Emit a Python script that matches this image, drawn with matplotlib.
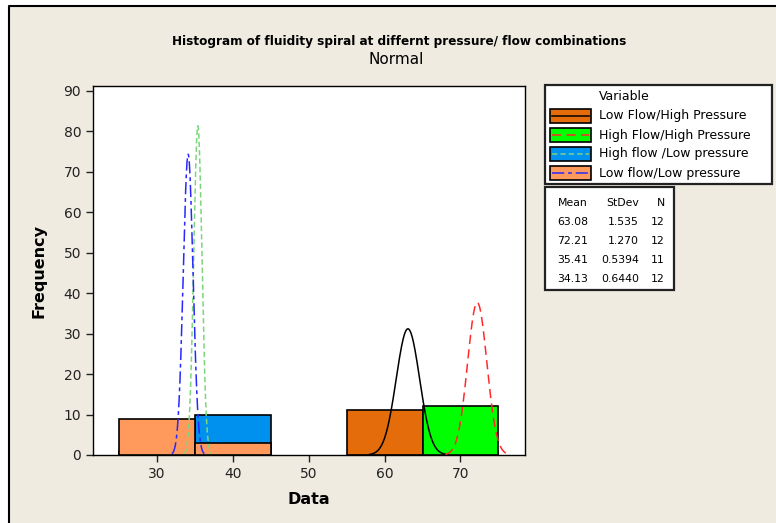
import numpy as np
import matplotlib.pyplot as plt
from matplotlib.patches import Rectangle
from matplotlib.lines import Line2D

# Histogram bins (Minitab bins of width 10)
bin_edges = [25, 35, 45, 55, 65, 75]
series = [
    "Low Flow/High Pressure",
    "High Flow/High Pressure",
    "High flow /Low pressure",
    "Low flow/Low pressure",
]
counts = [
    [0, 0, 0, 11, 1],
    [0, 0, 0, 0, 12],
    [1, 10, 0, 0, 0],
    [9, 3, 0, 0, 0],
]
means = [63.08, 72.21, 35.41, 34.13]
stdevs = [1.535, 1.270, 0.5394, 0.6440]
n_obs = [12, 12, 11, 12]
stdev_text = ["1.535", "1.270", "0.5394", "0.6440"]

bar_colors = ["#E46C0A", "#00FF00", "#0090EE", "#FF9A5C"]
curve_colors = ["black", "#FF2A2A", "#7CD67C", "#2828FF"]
curve_dashes = [None, (6, 3.5), (3.5, 2), (8, 2.5, 2.5, 2.5)]

W, H = 776, 523
BG = "#EFEBE1"

fig = plt.figure(figsize=(W / 100, H / 100), dpi=100, facecolor="white")

# beige panel with black left/top border
fig.add_artist(Rectangle((9 / W, -0.2), 1.2, 1.2 - 6 / H, transform=fig.transFigure,
                         facecolor=BG, edgecolor="none", zorder=0))
fig.add_artist(Line2D([9 / W, 9 / W, 1.1], [-0.1, 1 - 6 / H, 1 - 6 / H],
                      transform=fig.transFigure, color="black", lw=1.5, zorder=1))

ax = fig.add_axes([93 / W, 1 - 455 / H, (525 - 93) / W, (455 - 86) / H])
ax.set_facecolor("white")

mids = [(a + b) / 2 for a, b in zip(bin_edges[:-1], bin_edges[1:])]
for i in range(len(series)):
    xs = [m for m, c in zip(mids, counts[i]) if c > 0]
    hs = [c for c in counts[i] if c > 0]
    ax.bar(xs, hs, width=10, color=bar_colors[i], edgecolor="black",
           linewidth=1.2, zorder=2 + i)

# fitted normal curves scaled to counts
bw = bin_edges[1] - bin_edges[0]
for i in range(len(series)):
    x = np.linspace(means[i] - 3.3 * stdevs[i], means[i] + 3.3 * stdevs[i], 200)
    y = n_obs[i] * bw / (stdevs[i] * np.sqrt(2 * np.pi)) * np.exp(-0.5 * ((x - means[i]) / stdevs[i]) ** 2)
    line, = ax.plot(x, y, color=curve_colors[i], lw=1.1, zorder=10)
    if curve_dashes[i]:
        line.set_dashes(curve_dashes[i])

ax.set_xlim(21.6, 78.5)
ax.set_ylim(0, 91.2)
ax.set_xticks([30, 40, 50, 60, 70])
ax.set_yticks(range(0, 100, 10))
ax.tick_params(direction="out", length=5, width=1, labelsize=10, colors="#222222")
for s in ax.spines.values():
    s.set_color("black")
    s.set_linewidth(1)
ax.set_xlabel("Data", fontsize=11.5, fontweight="bold", labelpad=8)
ax.set_ylabel("Frequency", fontsize=11.5, fontweight="bold", labelpad=12)

fig.text(399 / W, 1 - 41 / H, "Histogram of fluidity spiral at differnt pressure/ flow combinations",
         ha="center", va="center", fontsize=9.6, fontweight="bold",
         family="DejaVu Sans", fontstretch="condensed")
fig.text(396 / W, 1 - 59 / H, "Normal", ha="center", va="center", fontsize=11)

# legend and stats boxes drawn in pixel coordinates
lax = fig.add_axes([0, 0, 1, 1], zorder=20)
lax.set_xlim(0, W)
lax.set_ylim(H, 0)
lax.axis("off")
lax.add_patch(Rectangle((545, 85), 227, 99, facecolor="white", edgecolor="#222222", lw=1.6))
lax.text(599, 97, "Variable", ha="left", va="center", fontsize=9)
for i, name in enumerate(series):
    yc = 116 + i * 19
    lax.add_patch(Rectangle((550, yc - 7), 41, 14, facecolor=bar_colors[i],
                            edgecolor="black", lw=1.2))
    ln, = lax.plot([552, 589], [yc, yc], color=curve_colors[i], lw=1.1)
    if curve_dashes[i]:
        ln.set_dashes(curve_dashes[i])
    lax.text(599, yc, name, ha="left", va="center", fontsize=9)

lax.add_patch(Rectangle((545, 187), 129, 103, facecolor="white", edgecolor="#222222", lw=1.6))
lax.text(588, 203, "Mean", ha="right", va="center", fontsize=7.8)
lax.text(639, 203, "StDev", ha="right", va="center", fontsize=7.8)
lax.text(665, 203, "N", ha="right", va="center", fontsize=7.8)
for i in range(len(series)):
    yr = 222 + i * 19
    lax.text(588, yr, f"{means[i]:.2f}", ha="right", va="center", fontsize=7.8)
    lax.text(639, yr, stdev_text[i], ha="right", va="center", fontsize=7.8)
    lax.text(665, yr, str(n_obs[i]), ha="right", va="center", fontsize=7.8)

fig.savefig("out.png", dpi=100, facecolor=fig.get_facecolor())
